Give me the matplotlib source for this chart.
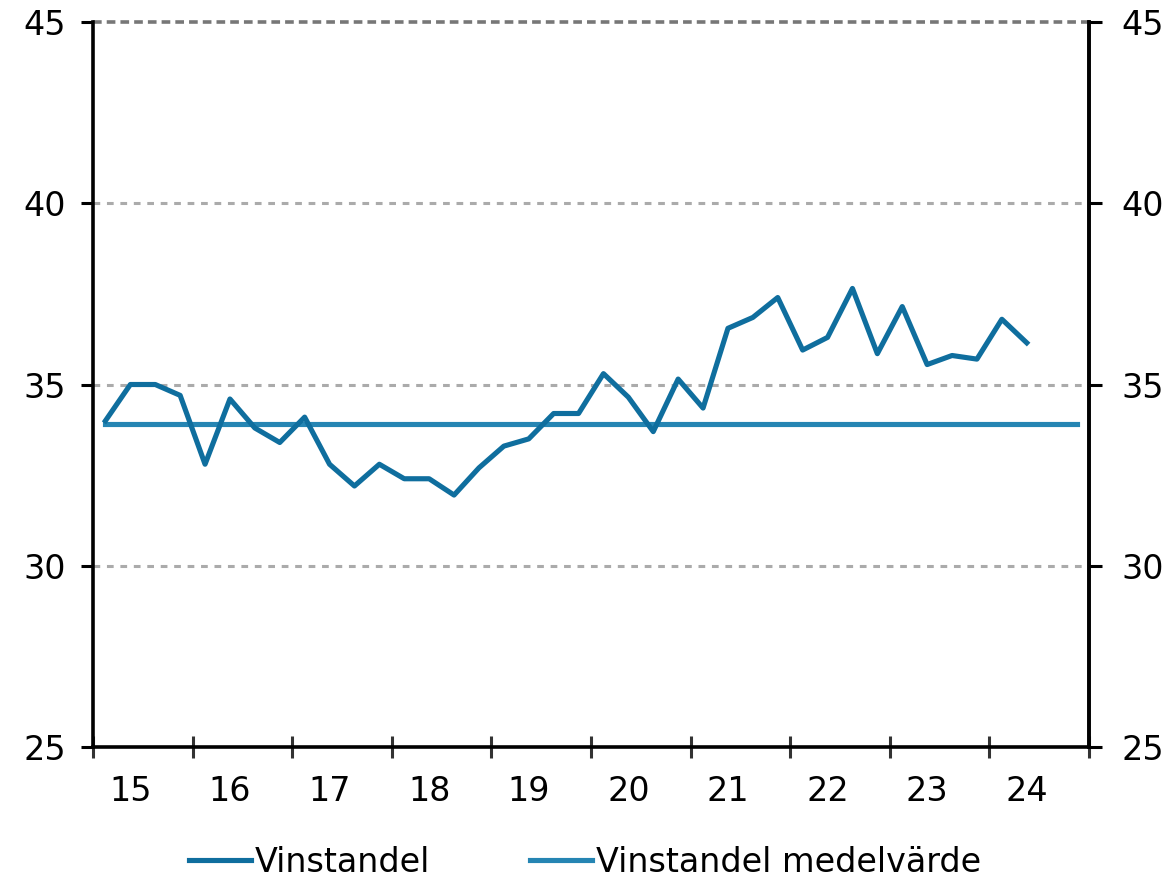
import matplotlib
matplotlib.use("Agg")
import matplotlib.pyplot as plt
import numpy as np

plt.rcParams['font.family'] = ['DejaVu Sans']

# Quarterly data, 2015 Q1 .. 2024 Q2
vinstandel = [34.0, 35.0, 35.0, 34.7, 32.8, 34.6, 33.8, 33.4,
              34.1, 32.8, 32.2, 32.8, 32.4, 32.4, 31.95, 32.7,
              33.3, 33.5, 34.2, 34.2, 35.3, 34.65, 33.7, 35.15,
              34.35, 36.55, 36.85, 37.4, 35.95, 36.3, 37.65, 35.85,
              37.15, 35.55, 35.8, 35.7, 36.8, 36.15]
medel = [33.9] * 40  # 2015 Q1 .. 2024 Q4
year_labels = ['15', '16', '17', '18', '19', '20', '21', '22', '23', '24']
y_ticks = [25, 30, 35, 40, 45]

fig = plt.figure(figsize=(11.73, 8.81), dpi=100)
ax = fig.add_axes([93/1173, 1 - 747/881, (1089-93)/1173, (747-22)/881])

c_series = '#0f6e9e'
c_mean = '#2585b3'
fs = 24

ax.set_xlim(-0.5, 39.5)
ax.set_ylim(25, 45)

for y in [30, 35, 40]:
    ax.axhline(y, color='#ababab', lw=2.2, ls=(0, (2.2, 2.2)), zorder=1)
ax.axhline(45, color='#777777', lw=2.6, ls=(0, (2.4, 1.4)), zorder=1, clip_on=False)

ax.plot(np.arange(len(medel)), medel, color=c_mean, lw=3.7, zorder=2,
        label='Vinstandel medelvärde')
ax.plot(np.arange(len(vinstandel)), vinstandel, color=c_series, lw=3.7, zorder=3,
        label='Vinstandel')

ax.spines['top'].set_visible(False)
for s in ['left', 'right', 'bottom']:
    ax.spines[s].set_linewidth(2.6)
    ax.spines[s].set_color('black')

# x axis: ticks at year boundaries, labels at Q2 of each year
ax.set_xticks(np.arange(-0.5, 40, 4))
ax.set_xticklabels([])
ax.set_xticks(np.arange(1, 40, 4), minor=True)
ax.set_xticklabels(year_labels, minor=True, fontsize=fs)
ax.tick_params(axis='x', which='major', direction='inout', length=16, width=2.2, color='#333333')
ax.tick_params(axis='x', which='minor', length=0, pad=20)

ax.set_yticks(y_ticks)
ax.set_yticklabels([str(v) for v in y_ticks], fontsize=fs)
ax.tick_params(axis='y', which='major', direction='out', length=8.5, width=2.2,
               left=True, right=False, labelleft=True, labelright=False, pad=11)

ax2 = ax.twinx()
ax2.set_ylim(25, 45)
ax2.set_yticks(y_ticks)
ax2.set_yticklabels([str(v) for v in y_ticks], fontsize=fs)
ax2.tick_params(axis='y', which='major', direction='out', length=9.5, width=2.2, pad=14)
for s in ['left', 'top', 'bottom']:
    ax2.spines[s].set_visible(False)
ax2.spines['right'].set_linewidth(2.6)

h, l = ax.get_legend_handles_labels()
order = [1, 0]
leg = fig.legend([h[i] for i in order], [l[i] for i in order], loc='center',
                 bbox_to_anchor=(0.499, 19/881), ncol=2, frameon=False, fontsize=fs,
                 handlelength=1.85, handletextpad=0.12, columnspacing=3.0)

fig.savefig('out.png', dpi=100)
